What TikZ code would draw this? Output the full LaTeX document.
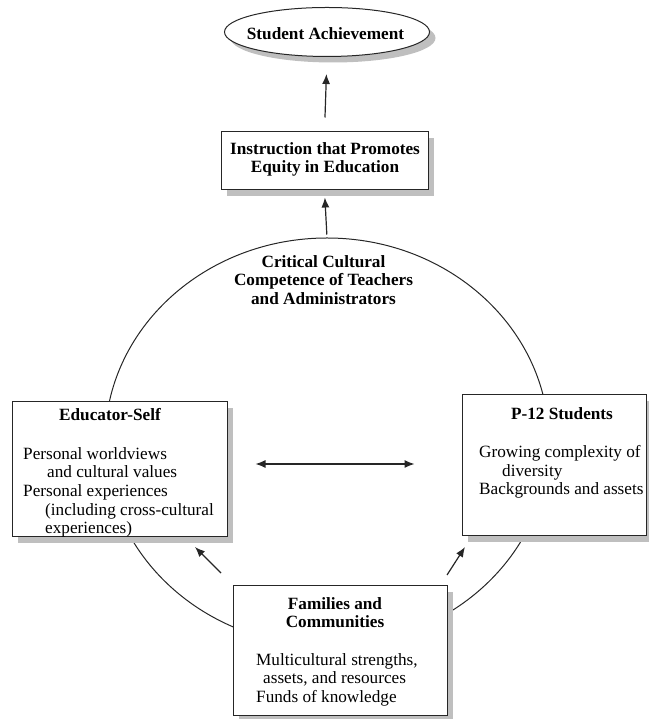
\documentclass[tikz,border=0pt]{standalone}
\usepackage{fontspec}
\setmainfont{Liberation Serif}
\usepackage{tikz}
\usetikzlibrary{shapes}
\usetikzlibrary{shadows}
\usetikzlibrary{arrows.meta}
\usetikzlibrary{fit,calc}
\usepackage{xcolor}
\tikzset{
  box/.style={draw=black!85, line width=1pt, fill=white, inner sep=0pt,
    drop shadow={shadow xshift=6pt, shadow yshift=-6pt, fill=black!25, opacity=1}},
  ttl/.style={font=\fontsize{17.2}{18.7}\selectfont\bfseries, align=center, inner sep=0pt},
  txt/.style={font=\fontsize{17.2}{18.7}\selectfont, align=left, inner sep=0pt},
  arr/.style={-{Latex[length=10pt,width=8pt]}, line width=1.2pt, draw=black!85}
}

\begin{document}
\begin{tikzpicture}[x=1pt,y=1pt]
\useasboundingbox (0,0) rectangle (648,719);
\node[draw=black!85, line width=1pt] (ring) at (327,277) [ellipse, inner sep=0pt, minimum width=444pt, minimum height=408pt] {};
\node[box] (sa) at (327,687) [ellipse, minimum width=205pt, minimum height=49pt] {};
\node[ttl] (satext) at (325.5,685) {Student Achievement};
\node[box] (instr) at (324.5,558) [rectangle, minimum width=207pt, minimum height=58pt] {};
\node[ttl, anchor=north] (instrtext) at (325,577) {Instruction that Promotes\\Equity in Education};
\node[ttl, anchor=north] (ccc) at (323.5,464) {Critical Cultural\\Competence of Teachers\\and Administrators};

\node[box] (edu) at (119.5,249.5) [rectangle, minimum width=215pt, minimum height=135pt] {};
\node[ttl, anchor=north] (edutitle) at (110,311) {Educator-Self};
\node[txt, anchor=north west] (edubody) at (23,272) {Personal worldviews\\\hspace*{24pt}and cultural values\\Personal experiences\\\hspace*{22pt}(including cross-cultural\\\hspace*{22pt}experiences)};

\node[box] (p12) at (554.25,253.5) [rectangle, minimum width=184.5pt, minimum height=141pt] {};
\node[ttl, anchor=north] (p12title) at (562,312) {P-12 Students};
\node[txt, anchor=north west] (p12body) at (479,274) {Growing complexity of\\\hspace*{23pt}diversity\\Backgrounds and assets};

\node[box] (fam) at (340,68) [rectangle, minimum width=214pt, minimum height=130pt] {};
\node[ttl, anchor=north] (famtitle) at (335,122) {Families and\\Communities};
\node[txt, anchor=north west] (fambody) at (256,66) {Multicultural strengths,\\\hspace*{7pt}assets, and resources\\Funds of knowledge};

\draw[arr] (instr.north) -- (sa.south) [shorten <=14pt, shorten >=17pt];
\draw[arr] (ring.north) -- (instr.south) [shorten <=3pt, shorten >=7pt];
\coordinate (mid) at (335,255);
\draw[arr, {Latex[length=10pt,width=8pt]}-{Latex[length=10pt,width=8pt]}] (edu.east |- mid) -- (p12.west |- mid) [shorten <=28pt, shorten >=47pt];
\coordinate (lfrom) at (221,146);
\coordinate (lto) at (195,172);
\coordinate (rfrom) at (447,144);
\coordinate (rto) at (465,172);
\draw[arr] (lfrom) -- (lto);
\draw[arr] (rfrom) -- (rto);
\end{tikzpicture}
\end{document}
